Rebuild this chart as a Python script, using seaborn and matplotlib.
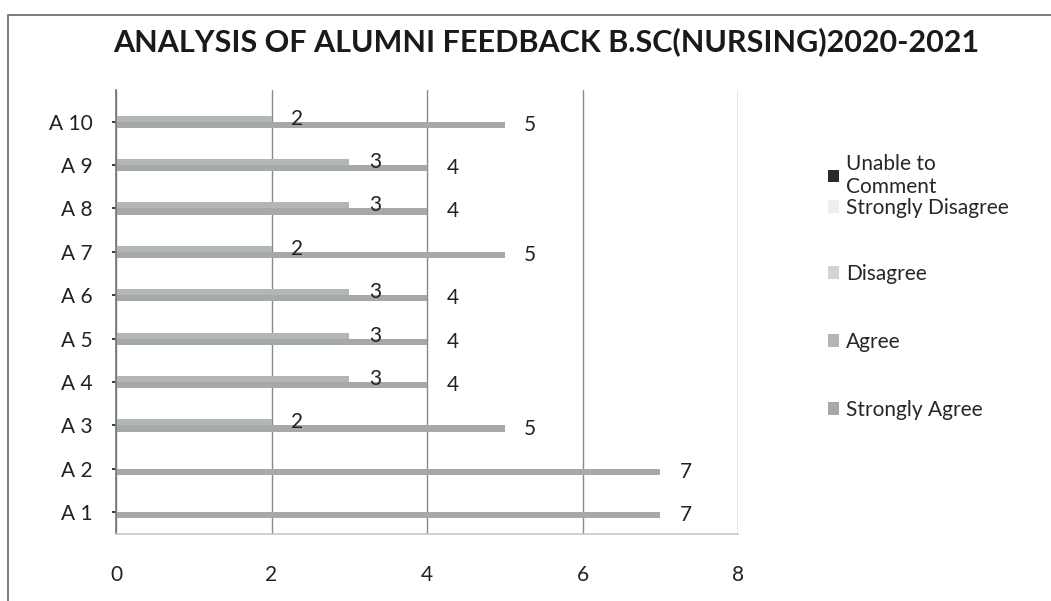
import pandas as pd
import matplotlib.pyplot as plt
import seaborn as sns
from matplotlib.patches import Patch, Rectangle

# data
items = ["A 1", "A 2", "A 3", "A 4", "A 5", "A 6", "A 7", "A 8", "A 9", "A 10"]
strongly_agree = [7, 7, 5, 4, 4, 4, 5, 4, 4, 5]
agree = [0, 0, 2, 3, 3, 3, 2, 3, 3, 2]
disagree = [0] * 10
strongly_disagree = [0] * 10
unable = [0] * 10

legend_labels = ["Unable to\nComment", "Strongly Disagree", "Disagree", "Agree", "Strongly Agree"]
legend_colors = ["#2b2b2b", "#eeeeee", "#d4d4d4", "#b3b6b6", "#a6a9a9"]

df = pd.DataFrame({
    "item": items * 2,
    "value": strongly_agree + agree,
    "response": ["Strongly Agree"] * 10 + ["Agree"] * 10,
})

sns.set_theme(style="white")
plt.rcParams["font.family"] = ["Lato", "DejaVu Sans"]

fig = plt.figure(figsize=(10.51, 6.01), dpi=100)
ax = fig.add_axes([0.1104, 0.1115, 0.5918, 0.7388])

order = items[::-1]
sns.barplot(
    data=df, y="item", x="value", hue="response", order=order,
    hue_order=["Agree", "Strongly Agree"],
    palette={"Agree": "#b3b6b6", "Strongly Agree": "#a6a9a9"},
    orient="h", width=0.28, ax=ax, legend=False, errorbar=None,
    linewidth=0, dodge=True,
)

for cont in ax.containers:
    labels = [f"{b.get_width():.0f}" if b.get_width() > 0 else "" for b in cont]
    ax.bar_label(cont, labels=labels, padding=14, fontsize=15, color="#222222")

ax.set_xlim(0, 8)
ax.set_xticks([0, 2, 4, 6, 8])
ax.set_ylim(9.5, -0.73)
ax.xaxis.grid(True, color="#8a8a8a", linewidth=1.0)
ax.set_axisbelow(True)
for s in ["top", "right"]:
    ax.spines[s].set_visible(False)
ax.spines["left"].set_color("#777777")
ax.spines["bottom"].set_color("#cccccc")
ax.tick_params(axis="x", length=0, pad=22, labelsize=15, colors="#222222")
ax.tick_params(axis="y", length=3, pad=14, labelsize=15, colors="#222222", left=True)
ax.set_xlabel("")
ax.set_ylabel("")

fig.suptitle("ANALYSIS OF ALUMNI FEEDBACK B.SC(NURSING)2020-2021",
             x=0.52, y=0.955, fontsize=22, fontweight="bold",
             family=["Lato", "DejaVu Sans"], color="#1a1a1a")

handles = [Patch(facecolor=c, edgecolor="none") for c in legend_colors]
leg_kw = dict(loc="upper left", frameon=False, fontsize=15, handlelength=0.55,
              handleheight=0.55, handletextpad=0.35, borderpad=0, borderaxespad=0)
fig.legend(handles[:2], legend_labels[:2], bbox_to_anchor=(0.7875, 0.744),
           labelspacing=0.05, **leg_kw)
fig.legend(handles[2:], legend_labels[2:], bbox_to_anchor=(0.7875, 0.561),
           labelspacing=2.3, **leg_kw)

fig.add_artist(Rectangle((0.008, -0.01), 1.0, 1 - 15 / 601 + 0.01,
                         transform=fig.transFigure, fill=False,
                         edgecolor="#666666", linewidth=1.2))

plt.savefig("out.png", dpi=100)
